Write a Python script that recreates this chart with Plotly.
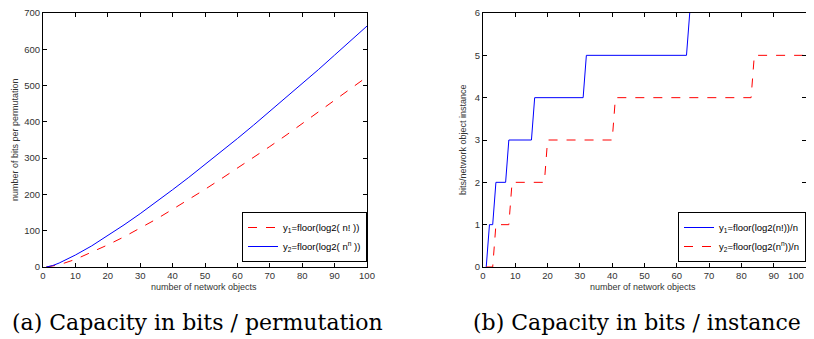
import plotly.graph_objects as go

# ---- data ----
n_a = [1, 2, 3, 5, 10, 15, 20, 25, 30, 35, 40, 45, 50, 55, 60, 65, 70, 75, 80, 85, 90, 95, 100]
y1_a = [0, 1, 2, 6, 21, 40, 61, 83, 107, 132, 159, 186, 214, 243, 272, 302, 332, 363, 395, 427, 459, 491, 524]
y2_a = [0, 2, 4, 11, 33, 58, 86, 116, 147, 179, 213, 247, 282, 318, 354, 391, 429, 467, 505, 544, 584, 624, 664]

n_b1 = [1, 2, 3, 4, 7, 8, 15, 16, 31, 32, 63, 64]
y_b1 = [0, 1, 1, 2, 2, 3, 3, 4, 4, 5, 5, 6]
n_b2 = [1, 3, 4, 8, 9, 19, 20, 40, 41, 83, 84, 100]
y_b2 = [0, 0, 1, 1, 2, 2, 3, 3, 4, 4, 5, 5]

xticks = [0, 10, 20, 30, 40, 50, 60, 70, 80, 90, 100]
xticktext = ["0", "10", "20", "30", "40", "50", "60", "70", "80", "90", "100"]
yticks_a = [0, 100, 200, 300, 400, 500, 600, 700]
yticks_b = [0, 1, 2, 3, 4, 5, 6]

leg_a = ["y<sub>1</sub>=floor(log2( n! ))", "y<sub>2</sub>=floor(log2( n<sup>n</sup> ))"]
leg_b = ["y<sub>1</sub>=floor(log2(n!))/n", "y<sub>2</sub>=floor(log2(n<sup>n</sup>))/n"]

RED = "#ff0000"
BLUE = "#0000ff"
OFF = 8  # page body margin offset
W, H = 814 - OFF, 339 - OFF

fig = go.Figure()
fig.add_trace(go.Scatter(x=n_a, y=y1_a, mode="lines", name=leg_a[0],
                         line=dict(color=RED, width=1, dash="dash"),
                         xaxis="x", yaxis="y", legend="legend"))
fig.add_trace(go.Scatter(x=n_a, y=y2_a, mode="lines", name=leg_a[1],
                         line=dict(color=BLUE, width=1),
                         xaxis="x", yaxis="y", legend="legend"))
fig.add_trace(go.Scatter(x=n_b1, y=y_b1, mode="lines", name=leg_b[0],
                         line=dict(color=BLUE, width=1),
                         xaxis="x2", yaxis="y2", legend="legend2"))
fig.add_trace(go.Scatter(x=n_b2, y=y_b2, mode="lines", name=leg_b[1],
                         line=dict(color=RED, width=1, dash="dash"),
                         xaxis="x2", yaxis="y2", legend="legend2"))

def px_x(p):
    return (p - OFF) / W

def px_y(p):
    return 1 - (p - OFF) / H

tickfont = dict(family="Liberation Sans, Arial, sans-serif", size=9.5, color="#333333")
axcommon = dict(showgrid=False, zeroline=False, showline=True, linecolor="black",
                linewidth=1, mirror="ticks", ticks="inside", ticklen=4,
                tickcolor="black", tickfont=tickfont, automargin=False,
                ticklabeloverflow="allow")

legfont = dict(family="Liberation Sans, Arial, sans-serif", size=9.5, color="black")
fig.update_layout(
    width=W, height=H,
    margin=dict(l=0, r=0, t=0, b=0, autoexpand=False),
    paper_bgcolor="white", plot_bgcolor="white",
    xaxis=dict(domain=[px_x(43), px_x(367)], range=[0, 100], tickvals=xticks,
               ticktext=xticktext, anchor="y", **axcommon),
    yaxis=dict(domain=[px_y(267), px_y(13)], range=[0, 700], tickvals=yticks_a,
               anchor="x", **axcommon),
    # last label of the right axis is placed separately so it stays inside the page
    xaxis2=dict(domain=[px_x(483), px_x(806)], range=[0, 100], tickvals=xticks,
                ticktext=xticktext[:-1] + [""], anchor="y2", **axcommon),
    yaxis2=dict(domain=[px_y(267), px_y(13)], range=[0, 6], tickvals=yticks_b,
                anchor="x2", **axcommon),
    legend=dict(x=px_x(367), y=px_y(262), xanchor="right", yanchor="bottom",
                bgcolor="white", bordercolor="black", borderwidth=1, font=legfont,
                tracegroupgap=0),
    legend2=dict(x=px_x(806), y=px_y(262), xanchor="right", yanchor="bottom",
                 bgcolor="white", bordercolor="black", borderwidth=1, font=legfont,
                 tracegroupgap=0),
    showlegend=True,
)

fig.add_annotation(text=xticktext[-1], xref="x2", yref="paper", x=xticks[-1],
                   y=px_y(275), xanchor="right", yanchor="middle", xshift=0,
                   showarrow=False, font=tickfont)

small = dict(family="Liberation Sans, Arial, sans-serif", size=9, color="#333333")
ann = [
    dict(text="number of network objects", x=px_x(204), y=px_y(287)),
    dict(text="number of network objects", x=px_x(643), y=px_y(287)),
]
for a in ann:
    fig.add_annotation(xref="paper", yref="paper", showarrow=False, font=small,
                       xanchor="center", yanchor="middle", **a)
fig.add_annotation(text="number of bits per permutation", xref="paper", yref="paper",
                   x=px_x(15), y=px_y(140), textangle=-90, showarrow=False, font=small,
                   xanchor="center", yanchor="middle")
fig.add_annotation(text="bits/network object instance", xref="paper", yref="paper",
                   x=px_x(463), y=px_y(140), textangle=-90, showarrow=False, font=small,
                   xanchor="center", yanchor="middle")

cap = dict(family="DejaVu Serif, Liberation Serif, serif", size=22, color="black")
fig.add_annotation(text="(a) Capacity in bits / permutation", xref="paper", yref="paper",
                   x=px_x(197), y=px_y(322), showarrow=False, font=cap,
                   xanchor="center", yanchor="middle")
fig.add_annotation(text="(b) Capacity in bits / instance", xref="paper", yref="paper",
                   x=px_x(637), y=px_y(322), showarrow=False, font=cap,
                   xanchor="center", yanchor="middle")

fig.write_html("out.html")
